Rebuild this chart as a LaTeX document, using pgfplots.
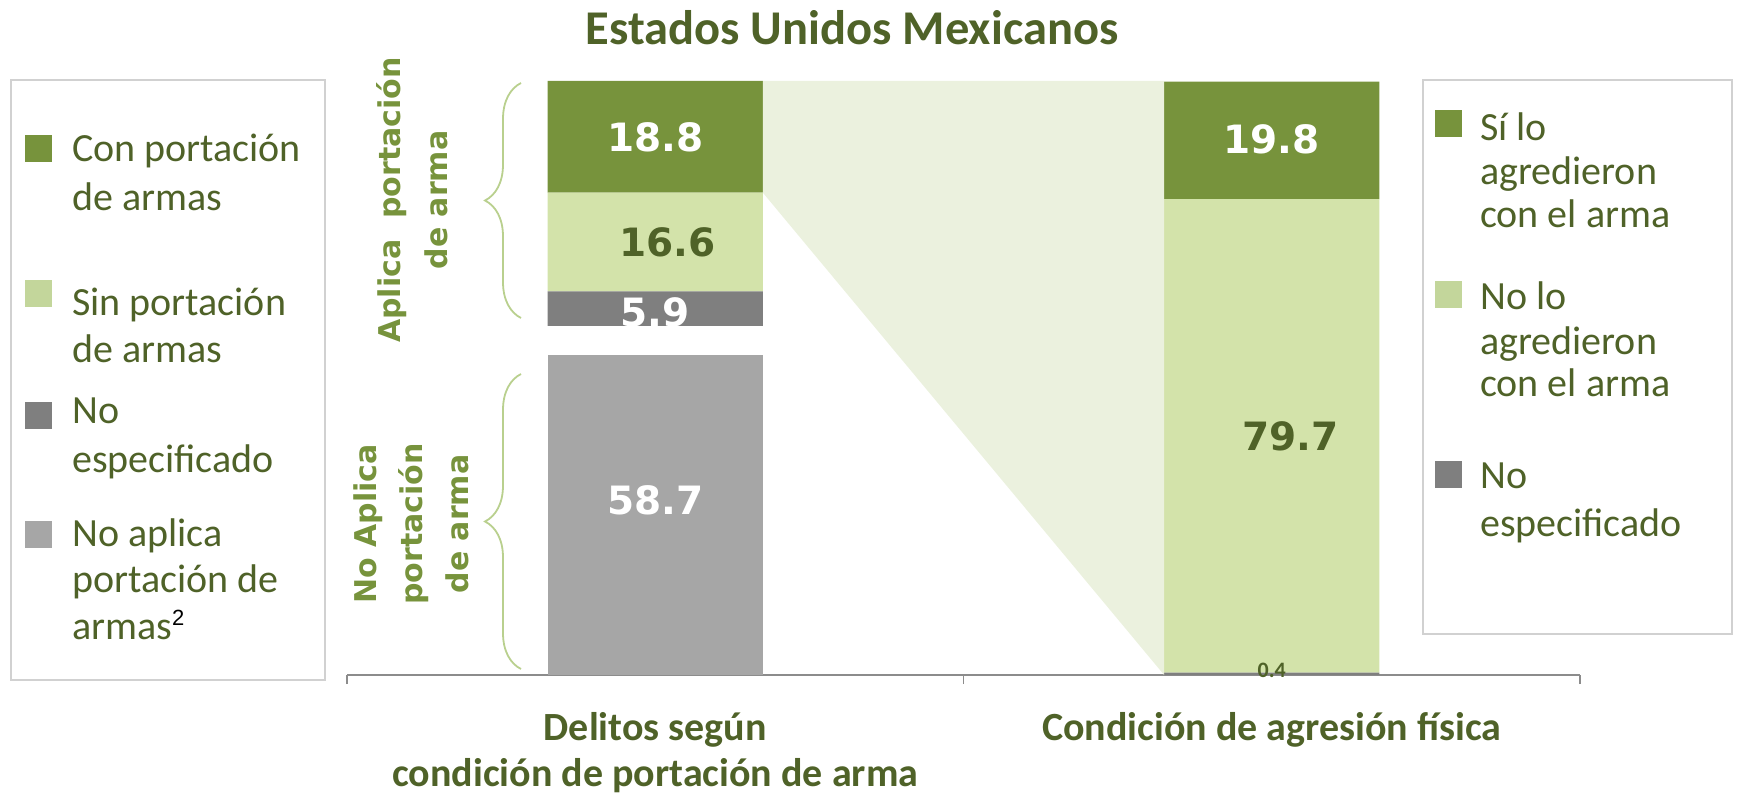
\documentclass[border=0pt]{standalone}
\usepackage{pgfplots}
\pgfplotsset{compat=1.18}
\usepackage{fontspec}
\setmainfont{Carlito}
\newfontfamily\vfont{DejaVu Sans}
\newfontfamily\arialf{Liberation Sans}
\usetikzlibrary{decorations.pathreplacing}
\definecolor{dkgreen}{HTML}{77933C}
\definecolor{ltgreen}{HTML}{D3E3AA}
\definecolor{lgsq}{HTML}{C3D69B}
\definecolor{conn}{HTML}{EBF1DE}
\definecolor{dkgray}{HTML}{7F7F7F}
\definecolor{ltgray}{HTML}{A6A6A6}
\definecolor{txtgreen}{HTML}{4F6228}
\definecolor{bracecol}{HTML}{B9D08E}
\tikzset{lbl/.style={font=\vfont\bfseries\fontsize{39}{42}\selectfont}}
\begin{document}
\begin{tikzpicture}[x=1pt,y=1pt]
\useasboundingbox (0,0) rectangle (1739,793);
\begin{axis}[
  at={(347pt,118pt)}, anchor=south west,
  scale only axis, width=1233pt, height=594pt,
  xmin=-0.5, xmax=1.5, ymin=0, ymax=100,
  axis x line*=bottom, axis y line=none,
  x axis line style={draw=black!45, line width=1.3pt, -},
  ybar stacked, bar width=0.349,
  xtick={0,1},
  xticklabels={{Delitos según\\condición de portación de arma},{Condición de agresión física}},
  xticklabel style={font=\bfseries\fontsize{40}{46}\selectfont, text=txtgreen, align=center, anchor=north, inner sep=0pt, yshift=-37pt},
  major tick length=0pt,
  minor xtick={-0.5,0.5,1.5},
  minor tick length=9pt,
  tick align=outside,
  every minor tick/.append style={draw=black!45, line width=1.3pt},
  clip=false,
]
\addplot[fill=conn, draw=none, stack plots=false, sharp plot, forget plot] coordinates {(0.1745,100) (0.8255,100) (0.8255,0) (0.1745,81.2)};
\addplot[fill=ltgray, draw=none] coordinates {(0,58.7) (1,0)};
\addplot[fill=dkgray, draw=none] coordinates {(0,5.9) (1,0.4)};
\addplot[fill=ltgreen, draw=none] coordinates {(0,16.6) (1,79.7)};
\addplot[fill=dkgreen, draw=none] coordinates {(0,18.8) (1,19.8)};
\coordinate (L188) at (axis cs:0,90.6);
\coordinate (L166) at (axis cs:0.02,72.9);
\coordinate (L59)  at (axis cs:0,61.0);
\coordinate (L587) at (axis cs:0,29.35);
\coordinate (L198) at (axis cs:1,90.1);
\coordinate (L797) at (axis cs:1.03,40.25);
\coordinate (L04)  at (axis cs:1,0);
\coordinate (G1) at (axis cs:-0.2,53.9);
\coordinate (G2) at (axis cs:0.2,58.7);
\end{axis}
% value labels and break
\node[lbl, text=white] at (L59) {5.9};
\fill[white] (G1) rectangle (G2);
\node[lbl, text=white] at (L188) {18.8};
\node[lbl, text=txtgreen] at (L166) {16.6};
\node[lbl, text=white] at (L587) {58.7};
\node[lbl, text=white] at (L198) {19.8};
\node[lbl, text=txtgreen] at (L797) {79.7};
\node[font=\bfseries\fontsize{22}{24}\selectfont, text=txtgreen, yshift=5pt] at (L04) {0.4};
% title
\node[font=\bfseries\fontsize{48.5}{52}\selectfont, text=txtgreen] at (852,765) {Estados Unidos Mexicanos};
% braces
\draw[bracecol, line width=1.8pt, decorate, decoration={brace, amplitude=36pt, aspect=0.5}] (521,475) -- (521,710);
\draw[bracecol, line width=1.8pt, decorate, decoration={brace, amplitude=36pt, aspect=0.5}] (521,124) -- (521,419);
% vertical texts
\node[rotate=90, align=center, font=\vfont\bfseries\fontsize{30}{47}\selectfont, text=dkgreen] at (412,593) {Aplica\ \ portación\\de arma};
\node[rotate=90, align=center, font=\vfont\bfseries\fontsize{30}{46}\selectfont, text=dkgreen] at (411,269) {No Aplica\\portación\\de arma};
% left legend
\draw[draw=black!18, line width=1.3pt] (11,713) rectangle (325,113);
\fill[dkgreen] (25,630.5) rectangle +(27,27);
\fill[lgsq] (25,485.5) rectangle +(27,27);
\fill[dkgray] (25,363.5) rectangle +(27,27);
\fill[ltgray] (25,245.5) rectangle +(27,27);
\begin{scope}[every node/.style={anchor=base west, inner sep=0pt, text=txtgreen, font=\fontsize{40}{47}\selectfont}]
\node at (72,631) {Con portación};
\node at (72,582) {de armas};
\node at (72,477) {Sin portación};
\node at (72,430) {de armas};
\node at (72,369) {No};
\node at (72,320) {especificado};
\node at (72,247) {No aplica};
\node at (72,201) {portación de};
\node at (72,154) {armas\raisebox{14pt}{\arialf\fontsize{22}{22}\selectfont\color{black}2}};
\end{scope}
% right legend
\draw[draw=black!18, line width=1.3pt] (1423,713) rectangle (1732,159);
\fill[dkgreen] (1435,655.5) rectangle +(27,27);
\fill[lgsq] (1435,484.5) rectangle +(27,27);
\fill[dkgray] (1435,304.5) rectangle +(27,27);
\begin{scope}[every node/.style={anchor=base west, inner sep=0pt, text=txtgreen, font=\fontsize{40}{47}\selectfont}]
\node at (1480,652) {Sí lo};
\node at (1480,608) {agredieron};
\node at (1480,565) {con el arma};
\node at (1480,483) {No lo};
\node at (1480,438) {agredieron};
\node at (1480,396) {con el arma};
\node at (1480,305) {No};
\node at (1480,257) {especificado};
\end{scope}
\end{tikzpicture}
\end{document}
